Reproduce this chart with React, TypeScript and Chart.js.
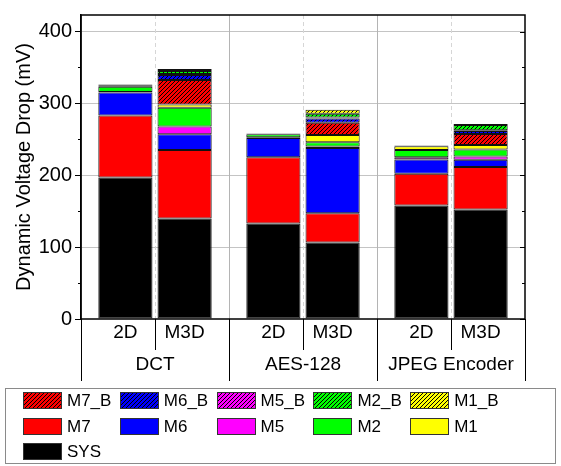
import React, { useEffect, useRef, useMemo } from 'react';
import { Chart, registerables } from 'chart.js';

Chart.register(...registerables);

const FONT = '"Liberation Sans", Arial, Helvetica, sans-serif';

const groups = ['DCT', 'AES-128', 'JPEG Encoder'];
const variants = ['2D', 'M3D'];
const layers = ['SYS', 'M7', 'M6', 'M5', 'M2', 'M1', 'M7_B', 'M6_B', 'M5_B', 'M2_B', 'M1_B'];
const layerColors = ['#000000', '#ff0000', '#0000ff', '#ff00ff', '#00ff00', '#ffff00', '#ff0000', '#0000ff', '#ff00ff', '#00ff00', '#ffff00'];
const layerHatched = [false, false, false, false, false, false, true, true, true, true, true];

// values per layer (order of `layers`), in mV
const dct2D = [197, 86, 32, 1, 7, 1.5, 1, 0.5, 0.3, 0.5, 0.3];
const dctM3D = [140, 95, 22, 11, 26, 4.5, 34, 7, 1.5, 4, 3];
const aes2D = [133, 92, 27, 1, 4, 0.5, 0.3, 0.2, 0.1, 0.3, 0.2];
const aesM3D = [106.5, 40.5, 91, 2, 6, 10, 17, 6, 1.5, 5, 5.5];
const jpeg2D = [158, 44, 20, 3, 10, 5.5, 0.5, 0.2, 0.1, 0.3, 0.2];
const jpegM3D = [152.5, 59, 10, 4.5, 10, 6, 15.5, 4, 1, 7.5, 1.5];

const values2D = [dct2D, aes2D, jpeg2D];
const valuesM3D = [dctM3D, aesM3D, jpegM3D];

const legendOrder = ['M7_B', 'M6_B', 'M5_B', 'M2_B', 'M1_B', 'M7', 'M6', 'M5', 'M2', 'M1', 'SYS'];

const yMin = 0;
const yMax = 423;
const yMajorStep = 100;
const yMinorStep = 50;

function makeTile(color: string, hatched: boolean): HTMLCanvasElement {
  const s = 4;
  const c = document.createElement('canvas');
  c.width = s;
  c.height = s;
  const g = c.getContext('2d')!;
  g.fillStyle = color;
  g.fillRect(0, 0, s, s);
  if (hatched) {
    g.fillStyle = '#000';
    for (let px = 0; px < s; px++) {
      for (let py = 0; py < s; py++) {
        if ((px + py) % s === s - 1) g.fillRect(px, py, 1, 1);
      }
    }
  }
  return c;
}

const decorPlugin = {
  id: 'decor',
  beforeDatasetsDraw(chart: any) {
    const { ctx, chartArea: a, scales } = chart;
    const x = scales.x;
    const n = groups.length;
    const w = (a.right - a.left) / n;
    ctx.save();
    ctx.lineWidth = 1;
    ctx.strokeStyle = '#b4b4b4';
    for (let k = 1; k < n; k++) {
      const px = Math.round(a.left + k * w) + 0.5;
      ctx.beginPath();
      ctx.moveTo(px, a.top);
      ctx.lineTo(px, a.bottom);
      ctx.stroke();
    }
    ctx.setLineDash([4, 3]);
    ctx.strokeStyle = '#d6d6d6';
    for (let i = 0; i < n; i++) {
      const px = Math.round(x.getPixelForValue(i)) + 0.5;
      ctx.beginPath();
      ctx.moveTo(px, a.top);
      ctx.lineTo(px, a.bottom);
      ctx.stroke();
    }
    ctx.restore();
  },
  afterDraw(chart: any) {
    const { ctx, chartArea: a, scales } = chart;
    const x = scales.x;
    const y = scales.y;
    const n = groups.length;
    const w = (a.right - a.left) / n;
    ctx.save();
    // frame
    ctx.strokeStyle = '#000';
    ctx.lineWidth = 1.5;
    ctx.strokeRect(a.left, a.top, a.right - a.left, a.bottom - a.top);
    ctx.lineWidth = 1;
    // left minor ticks (outside), right ticks (inside)
    for (let v = yMin; v <= yMax; v += yMinorStep) {
      const py = Math.round(y.getPixelForValue(v)) + 0.5;
      const major = v % yMajorStep === 0;
      if (!major) {
        ctx.beginPath();
        ctx.moveTo(a.left - 3, py);
        ctx.lineTo(a.left, py);
        ctx.stroke();
      }
      ctx.beginPath();
      ctx.moveTo(a.right, py);
      ctx.lineTo(a.right - (major ? 5 : 3), py);
      ctx.stroke();
    }
    // category labels
    ctx.fillStyle = '#000';
    ctx.font = `19px ${FONT}`;
    ctx.textAlign = 'center';
    ctx.textBaseline = 'middle';
    const m2 = chart.getDatasetMeta(0);
    const m3 = chart.getDatasetMeta(1);
    for (let i = 0; i < n; i++) {
      ctx.fillText(variants[0], m2.data[i].x, a.bottom + 14);
      ctx.fillText(variants[1], m3.data[i].x, a.bottom + 14);
      const cx = x.getPixelForValue(i);
      ctx.fillText(groups[i], cx, a.bottom + 46);
      const px = Math.round(cx) + 0.5;
      ctx.beginPath();
      ctx.moveTo(px, a.bottom);
      ctx.lineTo(px, a.bottom + 31);
      ctx.stroke();
    }
    for (let k = 0; k <= n; k++) {
      const px = Math.round(a.left + k * w) + 0.5;
      ctx.beginPath();
      ctx.moveTo(px, a.bottom);
      ctx.lineTo(px, a.bottom + 62);
      ctx.stroke();
    }
    ctx.restore();
  },
};

export default function App() {
  const canvasRef = useRef<HTMLCanvasElement | null>(null);

  const tiles = useMemo(() => layers.map((_, i) => makeTile(layerColors[i], layerHatched[i])), []);

  useEffect(() => {
    const canvas = canvasRef.current;
    if (!canvas) return;
    const ctx = canvas.getContext('2d')!;
    const fills = tiles.map((t, i) => (layerHatched[i] ? ctx.createPattern(t, 'repeat') : layerColors[i]));

    const datasets: any[] = [];
    layers.forEach((name, li) => {
      datasets.push({
        label: name,
        stack: variants[0],
        data: values2D.map((arr) => arr[li]),
        backgroundColor: fills[li],
        borderColor: '#111',
        borderWidth: 1,
        borderSkipped: false,
      });
      datasets.push({
        label: name,
        stack: variants[1],
        data: valuesM3D.map((arr) => arr[li]),
        backgroundColor: fills[li],
        borderColor: '#111',
        borderWidth: 1,
        borderSkipped: false,
      });
    });

    const chart = new Chart(canvas, {
      type: 'bar',
      data: { labels: groups, datasets },
      options: {
        responsive: false,
        animation: false,
        layout: { padding: { left: 0, right: 36, top: 7, bottom: 147 } },
        datasets: { bar: { categoryPercentage: 0.8, barPercentage: 0.915 } },
        plugins: { legend: { display: false }, tooltip: { enabled: false } },
        scales: {
          x: { stacked: true, display: false, offset: true },
          y: {
            stacked: true,
            min: yMin,
            max: yMax,
            afterFit: (s: any) => {
              s.width = 81;
            },
            ticks: {
              stepSize: yMajorStep,
              includeBounds: false,
              padding: 3,
              color: '#000',
              font: { family: FONT, size: 20 },
            },
            grid: {
              color: (c: any) => (c.tick && c.tick.value % yMajorStep === 0 && c.tick.value !== 0 ? '#c4c4c4' : 'rgba(0,0,0,0)'),
              tickColor: '#000',
              tickLength: 6,
              lineWidth: 1,
            },
            border: { color: '#000', width: 1.5 },
            title: {
              display: true,
              text: 'Dynamic Voltage Drop (mV)',
              color: '#000',
              font: { family: FONT, size: 20 },
              padding: { top: 12, bottom: 0 },
            },
          },
        },
      },
      plugins: [decorPlugin],
    } as any);
    return () => chart.destroy();
  }, [tiles]);

  const legendPitchX = 96.8;
  const legendPitchY = 25.5;

  return (
    <div style={{ position: 'absolute', left: 0, top: 0, width: 561, height: 466, background: '#fff', overflow: 'hidden' }}>
      <canvas ref={canvasRef} width={561} height={466} style={{ position: 'absolute', left: 0, top: 0 }} />
      <div
        style={{
          position: 'absolute',
          left: 5,
          top: 388,
          width: 551,
          height: 76,
          border: '1px solid #8a8a8a',
          boxSizing: 'border-box',
          fontFamily: FONT,
        }}
      >
        {legendOrder.map((name, i) => {
          const li = layers.indexOf(name);
          const col = i % 5;
          const row = Math.floor(i / 5);
          return (
            <div
              key={name}
              style={{
                position: 'absolute',
                left: 17 + col * legendPitchX,
                top: 3 + row * legendPitchY,
                display: 'flex',
                alignItems: 'center',
                height: 17,
                whiteSpace: 'nowrap',
              }}
            >
              <span
                style={{
                  display: 'inline-block',
                  width: 39,
                  height: 17,
                  boxSizing: 'border-box',
                  border: '1px solid #333',
                  backgroundColor: layerColors[li],
                  backgroundImage: layerHatched[li] ? `url(${tiles[li].toDataURL()})` : 'none',
                }}
              />
              <span style={{ marginLeft: 5, fontSize: 17, lineHeight: '17px', color: '#000' }}>{name}</span>
            </div>
          );
        })}
      </div>
    </div>
  );
}
